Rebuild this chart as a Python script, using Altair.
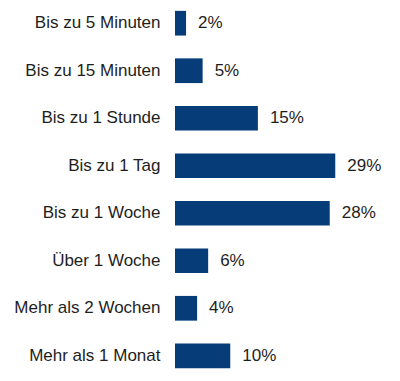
import altair as alt
import pandas as pd

categories = ["Bis zu 5 Minuten", "Bis zu 15 Minuten", "Bis zu 1 Stunde", "Bis zu 1 Tag",
              "Bis zu 1 Woche", "Über 1 Woche", "Mehr als 2 Wochen", "Mehr als 1 Monat"]
values = [2, 5, 15, 29, 28, 6, 4, 10]
labels = [f"{v}%" for v in values]

df = pd.DataFrame({"cat": categories, "val": values, "lab": labels})

FONT = "Liberation Sans"
BLUE = "#063d79"
TXT = "#1e1e1e"

y = alt.Y("cat:N", sort=categories, title=None,
          scale=alt.Scale(paddingInner=0.48, paddingOuter=0.06),
          axis=alt.Axis(domain=False, ticks=False, labelPadding=15, labelFont=FONT,
                        labelFontSize=17, labelColor=TXT, minExtent=167, maxExtent=167,
                        labelLimit=300))
x = alt.X("val:Q", title=None, scale=alt.Scale(domain=[0, 38]), axis=None)

bars = alt.Chart(df).mark_bar(color=BLUE).encode(x=x, y=y)
text = alt.Chart(df).mark_text(align="left", baseline="middle", dx=12, font=FONT,
                               fontSize=17, color=TXT).encode(x=x, y=y, text="lab:N")

chart = (bars + text).properties(width=210, height=363, padding=0).configure_view(stroke=None)
chart.save("out.html", embed_options={"renderer": "svg", "actions": False})
